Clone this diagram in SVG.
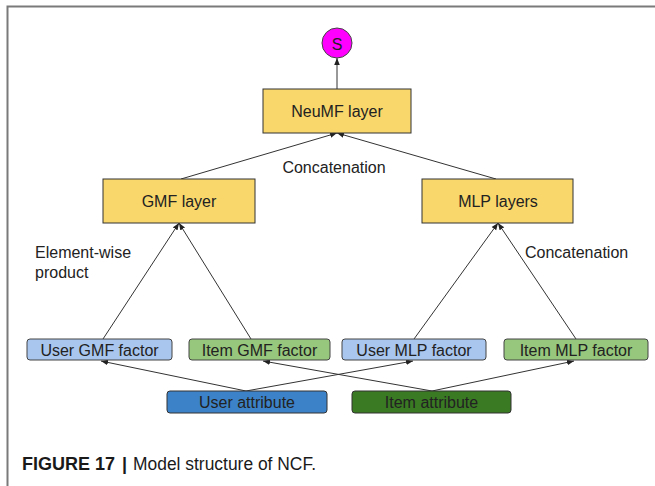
<svg xmlns="http://www.w3.org/2000/svg" width="655" height="486" viewBox="0 0 655 486">
  <style>
    text { font-family: "Liberation Sans", Arial, sans-serif; fill: #222; }
    .lbl { font-size: 16px; text-anchor: middle; }
    .note { font-size: 16px; }
    .cap { font-size: 18px; fill: #1a1a1a; }
    .layer { fill: #f9d76a; stroke: #333; stroke-width: 1; }
    .ublue { fill: #a9c6ee; stroke: #444; stroke-width: 1; }
    .igreen { fill: #97c77c; stroke: #444; stroke-width: 1; }
    .uattr { fill: #3c82c8; stroke: #333; stroke-width: 1; }
    .iattr { fill: #3a7a22; stroke: #333; stroke-width: 1; }
    .edge { stroke: #333; stroke-width: 1; fill: none; marker-end: url(#arr); }
  </style>
  <defs>
    <marker id="arr" viewBox="0 0 10 10" refX="10" refY="5" markerWidth="7" markerHeight="7" orient="auto" markerUnits="userSpaceOnUse">
      <path d="M0,1 L10,5 L0,9 z" fill="#222"/>
    </marker>
  </defs>

  <rect width="655" height="486" fill="#fff"/>
  <!-- frame edges -->
  <path d="M7.5,486 V6.5 H655" fill="none" stroke="#7a7a7a" stroke-width="2"/>

  <g id="connectors">
    <line class="edge" x1="337" y1="89" x2="337" y2="58"/>
    <line class="edge" x1="181" y1="179" x2="337" y2="133"/>
    <line class="edge" x1="496" y1="179" x2="337" y2="133"/>
    <line class="edge" x1="103" y1="339" x2="179" y2="223"/>
    <line class="edge" x1="251" y1="339" x2="179" y2="223"/>
    <line class="edge" x1="414" y1="339" x2="498" y2="223"/>
    <line class="edge" x1="576" y1="339" x2="498" y2="223"/>
    <line class="edge" x1="246" y1="391" x2="101" y2="361"/>
    <line class="edge" x1="246" y1="391" x2="413" y2="361"/>
    <line class="edge" x1="432" y1="391" x2="263" y2="361"/>
    <line class="edge" x1="432" y1="391" x2="574" y2="361"/>
  </g>

  <g id="score">
    <circle cx="337" cy="43" r="15" fill="#ff00ff" stroke="#444" stroke-width="1"/>
    <text class="lbl" x="337" y="49.5" font-size="18">S</text>
  </g>

  <g id="neumf">
    <rect class="layer" x="263" y="89" width="148" height="44"/>
    <text class="lbl" x="337" y="117">NeuMF layer</text>
  </g>

  <g id="gmf">
    <rect class="layer" x="103" y="179" width="152" height="44"/>
    <text class="lbl" x="179" y="207">GMF layer</text>
  </g>

  <g id="mlp">
    <rect class="layer" x="422" y="179" width="151" height="44"/>
    <text class="lbl" x="498" y="207">MLP layers</text>
  </g>

  <g id="user-gmf">
    <rect class="ublue" x="27" y="339" width="145" height="21" rx="3"/>
    <text class="lbl" x="99.5" y="355.5">User GMF factor</text>
  </g>

  <g id="item-gmf">
    <rect class="igreen" x="189" y="339" width="141" height="21" rx="3"/>
    <text class="lbl" x="259.5" y="355.5">Item GMF factor</text>
  </g>

  <g id="user-mlp">
    <rect class="ublue" x="342" y="339" width="144" height="21" rx="3"/>
    <text class="lbl" x="414" y="355.5">User MLP factor</text>
  </g>

  <g id="item-mlp">
    <rect class="igreen" x="504" y="339" width="144" height="21" rx="3"/>
    <text class="lbl" x="576" y="355.5">Item MLP factor</text>
  </g>

  <g id="user-attr">
    <rect class="uattr" x="167" y="391" width="160" height="22" rx="3"/>
    <text class="lbl" x="247" y="408">User attribute</text>
  </g>

  <g id="item-attr">
    <rect class="iattr" x="352" y="391" width="159" height="22" rx="3"/>
    <text class="lbl" x="431.5" y="408">Item attribute</text>
  </g>

  <g id="edge-labels">
    <text class="lbl" x="334" y="173">Concatenation</text>
    <text class="note" x="35" y="258">Element-wise</text>
    <text class="note" x="35" y="278">product</text>
    <text class="note" x="525" y="258">Concatenation</text>
  </g>

  <g id="caption">
    <text class="cap" x="22" y="470" font-weight="bold">FIGURE 17</text>
    <text class="cap" x="122" y="470" font-weight="bold">|</text>
    <text class="cap" x="133" y="470" textLength="183" lengthAdjust="spacingAndGlyphs">Model structure of NCF.</text>
  </g>
</svg>
